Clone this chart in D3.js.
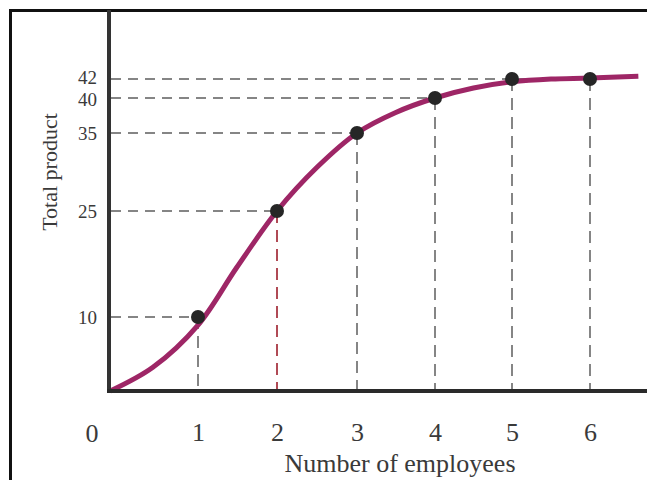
<!DOCTYPE html>
<html>
<head>
<meta charset="utf-8">
<script src="https://cdn.jsdelivr.net/npm/d3@7"></script>
<style>
  html, body { margin: 0; padding: 0; background: #fff; }
  svg { display: block; }
  text { font-family: "Liberation Serif", "DejaVu Serif", serif; fill: #3a3a3a; }
</style>
</head>
<body>
<svg id="chart" width="647" height="480"></svg>
<script>
// ---- data ----
const employees = [1, 2, 3, 4, 5, 6];
const totalProduct = [10, 25, 35, 40, 42, 42];
const yTickValues = [10, 25, 35, 40, 42];
const xTickValues = [1, 2, 3, 4, 5, 6];
const originLabel = "0";
// smooth total-product curve
const curveX = [-0.07, 0.45, 1, 1.49, 2, 2.5, 3, 3.49, 4, 4.5, 5, 5.5, 6, 6.62];
const curveY = [0, 3.2, 8.9, 17.0, 25, 30.6, 35, 37.9, 40, 41.05, 41.7, 42, 42.1, 42.3];
const xTitle = "Number of employees";
const yTitle = "Total product";

// ---- layout ----
const svg = d3.select("#chart");
const W = 647, H = 480;
const axisX = 109, axisY = 391;

// hand-drawn textbook axes: piecewise-linear scales
const x = d3.scaleLinear().domain([0, 1, 2, 3, 4, 5, 6])
  .range([116, 198, 277, 357, 435, 512, 590]);
const y = d3.scaleLinear().domain([0, 10, 25, 35, 40, 42])
  .range([axisY, 317, 211, 133, 98, 79]);

// outer frame (left and top edges visible)
svg.append("path")
  .attr("d", `M10.5,${H} L10.5,10.5 L${W},10.5`)
  .attr("fill", "none").attr("stroke", "#111").attr("stroke-width", 3);

// dashed guide lines
const pts = employees.map((e, i) => ({ x: e, y: totalProduct[i] }));
const guides = svg.append("g");
pts.forEach((p) => {
  const sameY = pts.filter(q => q.y === p.y);
  const far = sameY[sameY.length - 1];
  if (far === p) {
    guides.append("line")
      .attr("x1", axisX + 2).attr("x2", x(p.x))
      .attr("y1", y(p.y)).attr("y2", y(p.y))
      .attr("stroke", "#858585").attr("stroke-width", 2)
      .attr("stroke-dasharray", "10,7");
  }
  guides.append("line")
    .attr("x1", x(p.x)).attr("x2", x(p.x))
    .attr("y1", y(p.y)).attr("y2", axisY - 2)
    .attr("stroke", p.x === 2 ? "#b04a55" : "#858585").attr("stroke-width", 2)
    .attr("stroke-dasharray", "12,7");
});

// curve
const line = d3.line()
  .x(d => x(d[0])).y(d => y(d[1]))
  .curve(d3.curveCatmullRom.alpha(0.5));
svg.append("path")
  .datum(curveX.map((v, i) => [v, curveY[i]]))
  .attr("d", line)
  .attr("fill", "none")
  .attr("stroke", "#9e2666")
  .attr("stroke-width", 5)
  .attr("stroke-linecap", "butt");

// points
svg.append("g").selectAll("circle")
  .data(pts).join("circle")
  .attr("cx", d => x(d.x)).attr("cy", d => y(d.y))
  .attr("r", 7).attr("fill", "#262626");

// axes lines
svg.append("line")
  .attr("x1", axisX).attr("x2", axisX).attr("y1", 10).attr("y2", axisY + 2)
  .attr("stroke", "#333").attr("stroke-width", 4);
svg.append("line")
  .attr("x1", axisX - 2).attr("x2", W).attr("y1", axisY).attr("y2", axisY)
  .attr("stroke", "#2a2a2a").attr("stroke-width", 4);

// y tick labels via axis
const yAxis = d3.axisLeft(y).tickValues(yTickValues).tickFormat(d3.format("d"))
  .tickSize(0).tickPadding(0);
const gy = svg.append("g").attr("transform", `translate(${axisX - 12},0)`).call(yAxis);
gy.select(".domain").remove();
gy.selectAll("text").style("font-size", "19px").attr("fill", "#3a3a3a")
  .style("font-family", '"Liberation Serif", serif');
gy.selectAll(".tick").filter(d => d === 42).select("text").attr("dy", "0.22em");
gy.selectAll(".tick").filter(d => d === 40).select("text").attr("dy", "0.42em");

// x tick labels via axis
const xAxis = d3.axisBottom(x).tickValues(xTickValues).tickFormat(d3.format("d"))
  .tickSize(0).tickPadding(0);
const gx = svg.append("g").attr("transform", `translate(0,${423})`).call(xAxis);
gx.select(".domain").remove();
gx.selectAll("text").style("font-size", "26px").attr("fill", "#3a3a3a")
  .style("font-family", '"Liberation Serif", serif');

// origin label
svg.append("text")
  .attr("x", 92).attr("y", 442)
  .attr("text-anchor", "middle")
  .style("font-size", "26px")
  .text(originLabel);

// titles
svg.append("text")
  .attr("x", 400).attr("y", 472)
  .attr("text-anchor", "middle")
  .style("font-size", "26px")
  .text(xTitle);

svg.append("text")
  .attr("transform", "translate(57,172) rotate(-90)")
  .attr("text-anchor", "middle")
  .style("font-size", "22px")
  .text(yTitle);
</script>
</body>
</html>
